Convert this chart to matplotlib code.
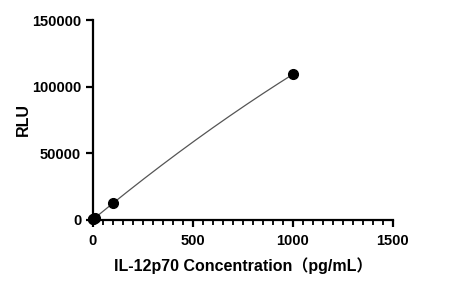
import numpy as np
import matplotlib.pyplot as plt
from matplotlib.ticker import MultipleLocator

# standard curve data
conc = [0, 2, 10, 100, 1000]
rlu = [300, 500, 1500, 12500, 109300]

plt.rcParams['font.family'] = ['Liberation Sans', 'Noto Sans CJK SC']
plt.rcParams['font.weight'] = 'bold'

fig = plt.figure(figsize=(4.49, 2.83), dpi=100)
ax = fig.add_axes([0.207, 0.223, 0.668, 0.706])

# quadratic fit drawn through the points
coef = np.polyfit(conc, rlu, 2)
xs = np.linspace(0, max(conc), 200)
ax.plot(xs, np.polyval(coef, xs), color='#555555', lw=0.9, clip_on=False)
ax.plot(conc, rlu, 'o', color='black', ms=7, clip_on=False, zorder=5)

ax.set_xlim(0, 1500)
ax.set_ylim(0, 150000)
ax.xaxis.set_major_locator(MultipleLocator(500))
ax.xaxis.set_minor_locator(MultipleLocator(50))
ax.yaxis.set_major_locator(MultipleLocator(50000))

for s in ['top', 'right']:
    ax.spines[s].set_visible(False)
for s in ['left', 'bottom']:
    ax.spines[s].set_linewidth(1.6)

ax.tick_params(which='major', length=5, width=1.6, labelsize=10.5)
ax.tick_params(axis='x', which='major', pad=5)
ax.tick_params(which='minor', length=3.5, width=1.3)
for lab in ax.get_xticklabels() + ax.get_yticklabels():
    lab.set_fontweight('bold')

ax.set_xlabel('IL-12p70 Concentration（pg/mL）', fontsize=11.5, fontweight='bold', labelpad=7)
ax.set_ylabel('RLU', fontsize=11.5, fontweight='bold', labelpad=1)

fig.savefig('out.png', dpi=100)
